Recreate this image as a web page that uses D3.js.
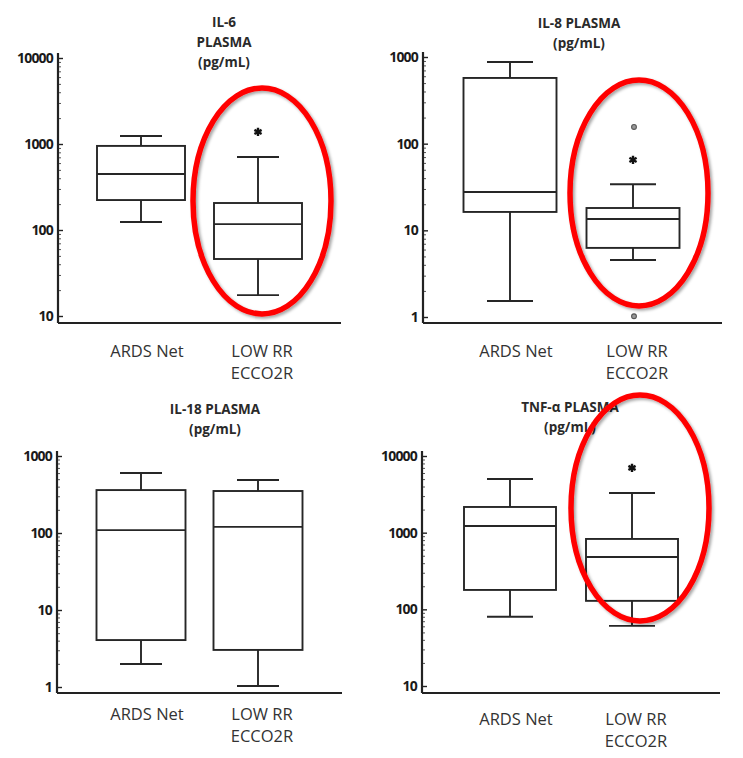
<!DOCTYPE html>
<html>
<head>
<meta charset="utf-8">
<script src="https://cdn.jsdelivr.net/npm/d3@7"></script>
<style>
  html, body { margin: 0; padding: 0; background: #fff; }
  svg { display: block; }
</style>
</head>
<body>
<svg id="chart" width="743" height="758"></svg>
<script>
// Groups on every x axis
const groups = ["ARDS Net", "LOW RR|ECCO2R"];

// Box summaries: [whisker low, Q1, median, Q3, whisker high]
const il6Ards   = [124, 223, 448, 950, 1240];
const il6Ecco   = [17.5, 46, 117, 206, 706];
const il8Ards   = [1.53, 16.3, 27.7, 573, 875];
const il8Ecco   = [4.55, 6.27, 13.5, 18.1, 34];
const il18Ards  = [1.99, 4.07, 109, 361, 601];
const il18Ecco  = [1.03, 3.03, 120, 351, 488];
const tnfArds   = [80, 179, 1222, 2163, 5010];
const tnfEcco   = [60.8, 129, 482, 828, 3296];

// Outlying points (LOW RR ECCO2R, IL-8)
const il8Outliers = [156, 1.02];

// Significance marks (value level of the asterisk over LOW RR ECCO2R)
const il6Star = 1380;
const il8Star = 65;
const tnfStar = 6980;

// Tick labels per axis
const ticks6   = [10, 100, 1000, 10000];
const ticks8   = [1, 10, 100, 1000];
const ticks18  = [1, 10, 100, 1000];
const ticksTnf = [10, 100, 1000, 10000];

// Panel titles
const title6   = ["IL-6", "PLASMA", "(pg/mL)"];
const title8   = ["IL-8 PLASMA", "(pg/mL)"];
const title18  = ["IL-18 PLASMA", "(pg/mL)"];
const titleTnf = ["TNF-\u03b1 PLASMA", "(pg/mL)"];

const panels = [
  { boxes: [il6Ards, il6Ecco], ticks: ticks6, title: title6, star: il6Star, outliers: [], ring: true,
    ax: 58, x0: 141, x1: 258, xEnd: 341, yTop: 58, yBot: 316, base: 323, boxW: 88, capW: 42,
    titleX: 224, titleY: 22, labelY: 351, ringC: [262, 201] },
  { boxes: [il8Ards, il8Ecco], ticks: ticks8, title: title8, star: il8Star, outliers: il8Outliers, ring: true,
    ax: 423, x0: 510, x1: 633, xEnd: 722, yTop: 57, yBot: 317, base: 323, boxW: 93, capW: 46,
    titleX: 579, titleY: 23, labelY: 351, ringC: [639, 193] },
  { boxes: [il18Ards, il18Ecco], ticks: ticks18, title: title18, star: null, outliers: [], ring: false,
    ax: 57, x0: 141, x1: 258, xEnd: 342, yTop: 456, yBot: 687, base: 693, boxW: 89, capW: 42,
    titleX: 215, titleY: 409, labelY: 714 },
  { boxes: [tnfArds, tnfEcco], ticks: ticksTnf, title: titleTnf, star: tnfStar, outliers: [], ring: true,
    ax: 422, x0: 510, x1: 632, xEnd: 720, yTop: 456, yBot: 686, base: 693, boxW: 92, capW: 46,
    titleX: 570, titleY: 407, labelY: 719, ringC: [640, 508] }
];

const svg = d3.select("#chart");
const ink = "#222";

// soft shadow under the red rings
const defs = svg.append("defs");
const f = defs.append("filter").attr("id", "ringShadow")
  .attr("x", "-20%").attr("y", "-20%").attr("width", "140%").attr("height", "140%");
f.append("feDropShadow").attr("dx", 2).attr("dy", 2).attr("stdDeviation", 1.5)
  .attr("flood-color", "#000").attr("flood-opacity", 0.35);

panels.forEach(p => {
  const g = svg.append("g");
  const lo = p.ticks[0], hi = p.ticks[p.ticks.length - 1];
  const y = d3.scaleLog().domain([lo, hi]).range([p.yBot, p.yTop]);
  const x = d3.scalePoint().domain(groups).range([p.x0, p.x1]);

  // minor log ticks
  const minor = [];
  for (let d = lo; d < hi; d *= 10) for (let k = 2; k <= 9; k++) minor.push(d * k);
  g.append("g").attr("transform", `translate(${p.ax},0)`)
    .call(d3.axisLeft(y).tickValues(minor).tickSize(-3).tickSizeOuter(0).tickFormat(""))
    .call(s => s.select(".domain").remove())
    .call(s => s.selectAll("line").attr("stroke", "#555").attr("stroke-width", 1));

  // major ticks and labels
  g.append("g").attr("transform", `translate(${p.ax},0)`)
    .call(d3.axisLeft(y).tickValues(p.ticks).tickSize(-5).tickSizeOuter(0).tickPadding(5)
      .tickFormat(d3.format("d")))
    .call(s => s.select(".domain").remove())
    .call(s => s.selectAll("line").attr("stroke", ink).attr("stroke-width", 1.4))
    .call(s => s.selectAll("text")
      .attr("font-family", "'Open Sans', sans-serif").attr("font-weight", 700)
      .attr("font-size", "14px").attr("fill", "#1a1a1a").attr("letter-spacing", "-0.8px"));

  // axis lines
  g.append("line").attr("x1", p.ax).attr("x2", p.ax).attr("y1", p.yTop - 5).attr("y2", p.base)
    .attr("stroke", ink).attr("stroke-width", 2.2);
  g.append("line").attr("x1", p.ax).attr("x2", p.xEnd).attr("y1", p.base).attr("y2", p.base)
    .attr("stroke", ink).attr("stroke-width", 2.2);

  // boxes
  p.boxes.forEach((b, i) => {
    const cx = x(groups[i]);
    const bg = g.append("g").attr("stroke", "#262626").attr("stroke-width", 1.9).attr("fill", "none");
    bg.append("line").attr("x1", cx).attr("x2", cx).attr("y1", y(b[0])).attr("y2", y(b[1]));
    bg.append("line").attr("x1", cx).attr("x2", cx).attr("y1", y(b[3])).attr("y2", y(b[4]));
    bg.append("line").attr("x1", cx - p.capW / 2).attr("x2", cx + p.capW / 2)
      .attr("y1", y(b[0])).attr("y2", y(b[0]));
    bg.append("line").attr("x1", cx - p.capW / 2).attr("x2", cx + p.capW / 2)
      .attr("y1", y(b[4])).attr("y2", y(b[4]));
    bg.append("rect").attr("x", cx - p.boxW / 2).attr("width", p.boxW)
      .attr("y", y(b[3])).attr("height", y(b[1]) - y(b[3])).attr("fill", "#fff");
    bg.append("line").attr("x1", cx - p.boxW / 2).attr("x2", cx + p.boxW / 2)
      .attr("y1", y(b[2])).attr("y2", y(b[2]));
  });

  // outliers
  const cx2 = x(groups[1]);
  g.selectAll("circle.out").data(p.outliers).join("circle").attr("class", "out")
    .attr("cx", cx2 + 1).attr("cy", d => y(d)).attr("r", 2.4)
    .attr("fill", "#999").attr("stroke", "#555").attr("stroke-width", 1.1);

  // significance asterisk
  if (p.star !== null) {
    g.append("path")
      .attr("transform", `translate(${cx2},${y(p.star)})`)
      .attr("d", d3.symbol(d3.symbolAsterisk, 48)())
      .attr("stroke", "#111").attr("stroke-width", 2.4).attr("fill", "none");
  }

  // title
  g.append("text").attr("x", p.titleX).attr("y", p.titleY)
    .attr("text-anchor", "middle")
    .attr("font-family", "'Open Sans', sans-serif").attr("font-weight", 700)
    .attr("font-size", "13.5px").attr("fill", "#2a2a2a")
    .selectAll("tspan").data(p.title).join("tspan")
    .attr("x", p.titleX).attr("dy", (d, i) => i === 0 ? "0.35em" : "20px").text(d => d);

  // group labels
  groups.forEach((grp, i) => {
    const lines = grp.split("|");
    const lx = x(grp) + (i === 0 ? 6 : 4);
    g.append("text").attr("x", lx).attr("y", p.labelY)
      .attr("text-anchor", "middle")
      .attr("font-family", "'Open Sans', sans-serif").attr("font-size", "16.5px").attr("fill", "#333")
      .selectAll("tspan").data(lines).join("tspan")
      .attr("x", lx).attr("dy", (d, j) => j === 0 ? "0.35em" : "22px").text(d => d);
  });

  // highlight ring
  if (p.ring) {
    svg.append("ellipse").attr("cx", p.ringC[0]).attr("cy", p.ringC[1])
      .attr("rx", 69).attr("ry", 113)
      .attr("fill", "none").attr("stroke", "#ff0000").attr("stroke-width", 5.5)
      .attr("filter", "url(#ringShadow)");
  }
});
</script>
</body>
</html>
